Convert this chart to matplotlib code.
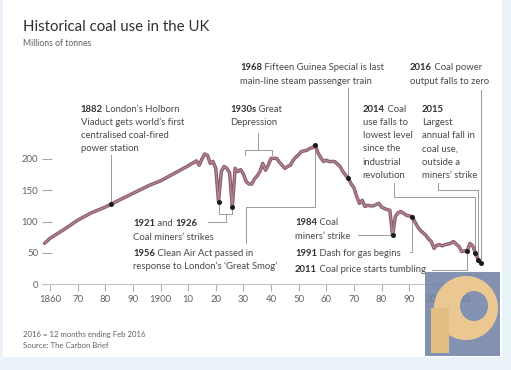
import matplotlib
matplotlib.use('Agg')
import matplotlib.pyplot as plt
import numpy as np
from matplotlib.patches import Rectangle, PathPatch
from matplotlib.path import Path

W, H = 511, 370

# ---------------- data ----------------
years = [1858, 1860, 1865, 1870, 1875, 1880, 1882, 1890, 1896, 1900, 1905, 1910,
         1911, 1912, 1913, 1914, 1915, 1916, 1917, 1918, 1919, 1920,
         1921, 1922, 1923, 1924, 1925, 1926, 1927, 1928, 1929, 1930,
         1931, 1932, 1933, 1934, 1935, 1936, 1937, 1938, 1939, 1940,
         1941, 1942, 1943, 1944, 1945, 1946, 1947, 1948, 1949, 1950,
         1951, 1952, 1953, 1954, 1955, 1956, 1957, 1958, 1959, 1960,
         1961, 1962, 1963, 1964, 1965, 1966, 1967, 1968, 1969, 1970,
         1971, 1972, 1973, 1974, 1975, 1976, 1977, 1978, 1979, 1980,
         1981, 1982, 1983, 1984, 1985, 1986, 1987, 1988, 1989, 1990,
         1991, 1992, 1993, 1994, 1995, 1996, 1997, 1998, 1999, 2000,
         2001, 2002, 2003, 2004, 2005, 2006, 2007, 2008, 2009, 2010,
         2011, 2012, 2013, 2014, 2015, 2016]
values = [65, 73, 87, 102, 114, 123, 127.5, 145, 158, 165, 177, 189,
          192, 194, 197, 190, 200, 208, 206, 193, 196, 185,
          132, 180, 188, 185, 178, 123, 185, 180, 183, 176,
          164, 160, 160, 168, 173, 180, 193, 182, 190, 201,
          201, 201, 195, 190, 185, 188, 190, 198, 203, 207,
          212, 213, 214, 217, 218, 222, 210, 202, 196, 198,
          196, 196, 196, 192, 188, 180, 174, 169, 160, 154,
          140, 129, 134, 124, 126, 125, 125, 127, 129, 123,
          121, 119, 118, 78, 108, 114, 116, 113, 110, 109,
          108, 100, 92, 86, 82, 78, 72, 68, 57, 62,
          63, 61, 63, 64, 65, 68, 64, 60, 52, 53,
          53, 65, 61, 50, 38, 33]
marker_years = [1882, 1921, 1926, 1956, 1968, 1984, 1991, 2011, 2014, 2015, 2016]
xticks = list(range(1860, 2011, 10))
xticklabels = ['1860', '70', '80', '90', '1900', '10', '20', '30', '40', '50',
               '60', '70', '80', '90', '2000', '10']
yticks = [0, 50, 100, 150, 200]
yticklabels = ['0', '50', '100', '150', '200']

title = 'Historical coal use in the UK'
subtitle = 'Millions of tonnes'
footnotes = ['2016 = 12 months ending Feb 2016', 'Source: The Carbon Brief']

# ---------------- style ----------------
plt.rcParams['font.family'] = ['Lato', 'DejaVu Sans']
DARK = '#33302e'
TXT = '#4d4845'
GREY = '#66605c'
LEAD = '#9a9a9a'
FS = 6.8
LS = 13.3

fig = plt.figure(figsize=(W / 100, H / 100), dpi=100)
fig.patch.set_facecolor('white')

# light blue border strips
for (x0, y0, w, h) in [(502, 0, 9, 370), (0, 357, 511, 13), (0, 0, 3, 370)]:
    fig.add_artist(Rectangle((x0 / W, 1 - (y0 + h) / H), w / W, h / H,
                             transform=fig.transFigure, color='#eaf2fa', lw=0, zorder=-5))

L, R, B, T = 41.7, 489.3, 284, 127.75
ax = fig.add_axes([L / W, (H - B) / H, (R - L) / W, (B - T) / H])
ax.set_xlim(1857, 2019)
ax.set_ylim(0, 250)
ax.patch.set_alpha(0)
for s in ['left', 'top', 'right']:
    ax.spines[s].set_visible(False)
ax.spines['bottom'].set_color('#c4c4c4')
ax.spines['bottom'].set_linewidth(0.8)
ax.set_xticks(xticks)
ax.set_xticklabels(xticklabels)
ax.set_yticks(yticks)
ax.set_yticklabels(yticklabels)
ax.tick_params(axis='x', direction='out', length=5, width=0.8, color='#b0b0b0',
               labelsize=6.9, labelcolor=GREY, pad=3)
ax.tick_params(axis='y', direction='in', length=7, width=0.8, color='#a8a8a8',
               labelsize=6.9, labelcolor=GREY, pad=2.5)

ax.plot(years, values, color='#8a5a68', lw=2.5, solid_joinstyle='round',
        solid_capstyle='round', zorder=3)
ax.plot(years, values, color='#b08592', lw=1.0, solid_joinstyle='round', zorder=4)
vmap = dict(zip(years, values))
mvals = [vmap[y] for y in marker_years]
ax.scatter(marker_years, mvals, s=13, color='#1c1c1c', zorder=6, lw=0)

fig.canvas.draw()
renderer = fig.canvas.get_renderer()


def fx(x):
    return x / W


def fy(y):
    return 1 - y / H


def mpt(year):
    dx, dy = ax.transData.transform((year, vmap[year]))
    return (dx, H - dy)


def lead(pts):
    xs = [fx(p[0]) for p in pts]
    ys = [fy(p[1]) for p in pts]
    ax.plot(xs, ys, transform=fig.transFigure, clip_on=False, color=LEAD,
            lw=0.7, zorder=2)


def ptext(x, y, s, **kw):
    return fig.text(fx(x), fy(y), s, **kw)


def note(x, y, lines):
    for i, line in enumerate(lines):
        yy = y + i * LS
        segs = line if isinstance(line, list) else [(line, False)]
        cx = x
        for s, bold in segs:
            t = ptext(cx, yy, s, fontsize=FS, va='center', ha='left',
                      fontweight='bold' if bold else 'normal',
                      color=DARK if bold else TXT)
            cx += t.get_window_extent(renderer).width


# title
ptext(23, 31, title, fontsize=10.8, color=DARK, va='baseline')
ptext(23, 46, subtitle, fontsize=6.2, color=GREY, va='baseline')
ptext(23, 334, footnotes[0], fontsize=5.6, color=GREY, va='center')
ptext(23, 346, footnotes[1], fontsize=5.6, color=GREY, va='center')

# annotations
note(80.7, 109, [[('1882', True), (' London’s Holborn', False)],
                 'Viaduct gets world’s first', 'centralised coal-fired', 'power station'])
note(230, 109, [[('1930s', True), (' Great', False)], 'Depression'])
note(240, 68, [[('1968', True), (' Fifteen Guinea Special is last', False)],
               'main-line steam passenger train'])
note(410, 68, [[('2016', True), (' Coal power', False)], 'output falls to zero'])
note(362.7, 109, [[('2014', True), (' Coal', False)], 'use falls to', 'lowest level',
                  'since the', 'industrial', 'revolution'])
note(422, 109, [[('2015', True)], 'Largest', 'annual fall in', 'coal use,',
                'outside a', 'miners’ strike'])
note(133, 224, [[('1921', True), (' and ', False), ('1926', True)], 'Coal miners’ strikes'])
note(133, 253, [[('1956', True), (' Clean Air Act passed in', False)],
                'response to London’s ‘Great Smog’'])
note(295, 223, [[('1984', True), (' Coal', False)], 'miners’ strike'])
note(295, 253, [[('1991', True), (' Dash for gas begins', False)]])
note(295, 270, [[('2011', True), (' Coal price starts tumbling', False)]])

# leader lines
m = mpt(1882); lead([(m[0], 155), m])
lead([(258, 133), (258, 150)])
lead([(245, 155), (245, 150), (272, 150), (272, 155)])
m = mpt(1968); lead([(m[0], 88), m])
m = mpt(1956); lead([m, (m[0], 207), (246, 207), (246, 243)])
a = mpt(1921); b = mpt(1926)
lead([a, (a[0], 214), (b[0], 214), b])
lead([(226, 214), (226, 222), (208, 222)])
m = mpt(1984); lead([(358, m[1]), m])
m = mpt(1991); lead([(410, 252), (m[0], 252), m])
m = mpt(2011); lead([(432, 270), (m[0], 270), m])
m = mpt(2014); lead([(394, 183), (394, 197), (m[0], 197), m])
m = mpt(2015); lead([(438, 183), (438, 190), (m[0], 190), m])
m = mpt(2016); lead([(m[0], 90), m])

# watermark logo box
fig.add_artist(Rectangle((fx(425), fy(356)), 75 / W, 84 / H, transform=fig.transFigure,
                         color='#7283a6', alpha=0.88, lw=0, zorder=10))
logo_ax = fig.add_axes([0, 0, 1, 1], zorder=11)
logo_ax.set_xlim(0, W)
logo_ax.set_ylim(H, 0)
logo_ax.axis('off')
th = np.linspace(0, 2 * np.pi, 120)
outer = np.column_stack([466 + 32 * np.cos(th), 308 + 32 * np.sin(th)])
inner = np.column_stack([474 + 14 * np.cos(th[::-1]), 306 + 15 * np.sin(th[::-1])])
verts = np.vstack([outer, inner])
codes = ([Path.MOVETO] + [Path.LINETO] * (len(outer) - 2) + [Path.CLOSEPOLY] +
         [Path.MOVETO] + [Path.LINETO] * (len(inner) - 2) + [Path.CLOSEPOLY])
logo_ax.add_patch(PathPatch(Path(verts, codes), facecolor='#ebc892', lw=0))
logo_ax.add_patch(Rectangle((431, 308), 18, 45, facecolor='#e2bd84', lw=0))

fig.savefig('out.png', dpi=100)
